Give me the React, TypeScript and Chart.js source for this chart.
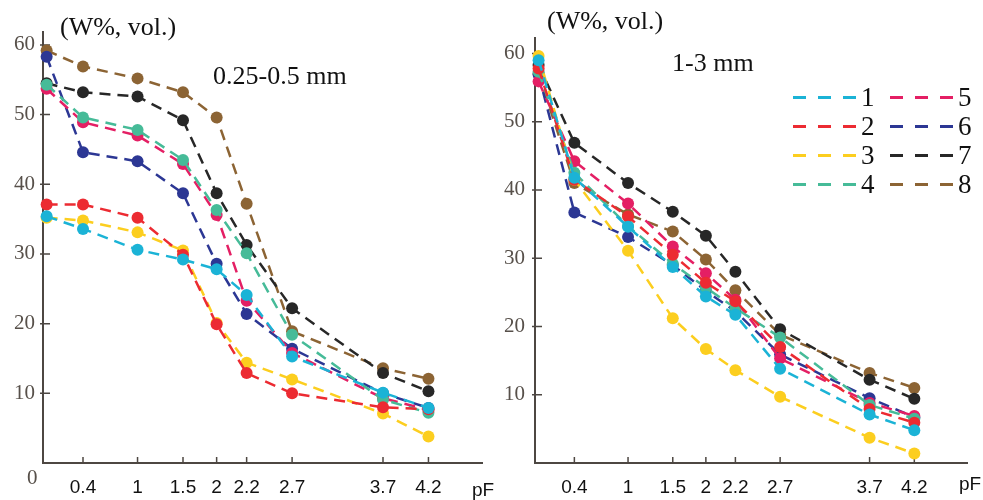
import React, { useEffect, useRef } from 'react';
import { Chart, registerables } from 'chart.js';
Chart.register(...registerables);

const pFPositions = [0, 0.4, 1, 1.5, 1.87, 2.2, 2.7, 3.7, 4.2];
const pFTickValues = [0.4, 1, 1.5, 1.87, 2.2, 2.7, 3.7, 4.2];
const pFTickLabels = ['0.4', '1', '1.5', '2', '2.2', '2.7', '3.7', '4.2'];
const yTickValues = [0, 10, 20, 30, 40, 50, 60];

const seriesNames = ['1', '2', '3', '4', '5', '6', '7', '8'];
const seriesColors = ['#1bb3d6', '#ec2b32', '#fcce1f', '#46bb98', '#e41f64', '#2c3794', '#272727', '#8c6434'];

// Left panel: 0.25-0.5 mm
const fine1 = [35.4, 33.6, 30.6, 29.2, 27.8, 24.1, 15.3, 10.1, 7.9];
const fine2 = [37.1, 37.1, 35.2, 29.9, 19.9, 12.9, 10.0, 8.0, 7.7];
const fine3 = [35.2, 34.8, 33.1, 30.5, 20.1, 14.4, 12.0, 7.1, 3.8];
const fine4 = [54.3, 49.6, 47.8, 43.5, 36.3, 30.1, 18.4, 9.1, 7.2];
const fine5 = [53.7, 48.9, 47.0, 42.9, 35.6, 23.3, 15.8, 9.3, 7.6];
const fine6 = [58.3, 44.6, 43.3, 38.7, 28.6, 21.4, 16.4, 10.0, 7.9];
const fine7 = [54.5, 53.2, 52.6, 49.2, 38.7, 31.3, 22.2, 12.9, 10.3];
const fine8 = [59.2, 56.9, 55.2, 53.2, 49.6, 37.2, 18.9, 13.6, 12.1];

// Right panel: 1-3 mm
const coarse1 = [59.0, 41.8, 34.6, 28.7, 24.4, 21.7, 13.8, 7.1, 4.8];
const coarse2 = [57.8, 41.5, 36.1, 30.5, 26.4, 23.7, 17.0, 7.9, 5.9];
const coarse3 = [59.6, 41.5, 31.1, 21.2, 16.7, 13.6, 9.7, 3.7, 1.4];
const coarse4 = [57.3, 42.5, 34.7, 29.2, 25.7, 22.7, 18.4, 8.5, 6.5];
const coarse5 = [55.9, 44.2, 38.0, 31.7, 27.8, 23.9, 15.3, 8.8, 6.9];
const coarse6 = [56.9, 36.7, 33.1, 29.0, 25.2, 22.2, 15.9, 9.5, 6.7];
const coarse7 = [58.3, 46.9, 41.0, 36.8, 33.3, 28.0, 19.6, 12.2, 9.4];
const coarse8 = [57.0, 41.0, 36.4, 33.9, 29.8, 25.3, 18.8, 13.2, 11.0];

const fineSeries = [fine1, fine2, fine3, fine4, fine5, fine6, fine7, fine8];
const coarseSeries = [coarse1, coarse2, coarse3, coarse4, coarse5, coarse6, coarse7, coarse8];

const AXIS_COLOR = '#4d4742';
const YLABEL_COLOR = '#57504a';
const SERIF = "'Liberation Serif', 'Times New Roman', serif";
const SANS = "'Liberation Sans', Arial, sans-serif";

const axisDecor = {
  id: 'axisDecor',
  beforeDatasetsDraw(chart: any) {
    const { ctx, chartArea: a, scales } = chart;
    const xs = scales.x;
    const ys = scales.y;
    ctx.save();
    ctx.strokeStyle = AXIS_COLOR;
    ctx.lineWidth = 2;
    ctx.beginPath();
    ctx.moveTo(a.left, a.top);
    ctx.lineTo(a.left, a.bottom);
    ctx.lineTo(a.right, a.bottom);
    ctx.stroke();
    ctx.lineWidth = 1.5;
    ctx.beginPath();
    for (const v of yTickValues) {
      if (v === 0) continue;
      const py = ys.getPixelForValue(v);
      ctx.moveTo(a.left - 3, py);
      ctx.lineTo(a.left + 7, py);
    }
    for (const v of pFTickValues) {
      const px = xs.getPixelForValue(v);
      ctx.moveTo(px, a.bottom);
      ctx.lineTo(px, a.bottom - 6);
    }
    ctx.stroke();
    ctx.restore();
  },
};

function buildConfig(series: number[][], yMax: number, yWidth: number, yPad: number, top: number, right: number): any {
  return {
    type: 'line',
    data: {
      datasets: series.map((vals, i) => ({
        label: seriesNames[i],
        data: pFPositions.map((p, j) => ({ x: p, y: vals[j] })),
        borderColor: seriesColors[i],
        backgroundColor: seriesColors[i],
        pointBackgroundColor: seriesColors[i],
        pointBorderWidth: 0,
        pointRadius: 6,
        borderWidth: 2.5,
        borderDash: [11, 7],
        tension: 0,
        clip: false,
      })),
    },
    options: {
      responsive: false,
      animation: false,
      layout: { padding: { top, right, left: 0, bottom: 0 } },
      plugins: { legend: { display: false }, tooltip: { enabled: false } },
      scales: {
        x: {
          type: 'linear',
          min: -0.04,
          max: 4.8,
          afterBuildTicks: (s: any) => {
            s.ticks = pFTickValues.map((v) => ({ value: v }));
          },
          afterFit: (s: any) => {
            s.height = 37;
          },
          grid: { display: false, drawTicks: false },
          border: { display: false },
          ticks: {
            autoSkip: false,
            maxRotation: 0,
            padding: 13,
            color: '#111',
            font: { family: SANS, size: 19 },
            callback: (v: any, idx: number) => pFTickLabels[idx],
          },
        },
        y: {
          type: 'linear',
          min: 0,
          max: yMax,
          afterBuildTicks: (s: any) => {
            s.ticks = yTickValues.map((v) => ({ value: v }));
          },
          afterFit: (s: any) => {
            s.width = yWidth;
          },
          grid: { display: false, drawTicks: false },
          border: { display: false },
          ticks: {
            padding: yPad,
            color: YLABEL_COLOR,
            font: { family: SERIF, size: 21 },
            callback: (v: any) => (v === 0 ? '' : String(v)),
          },
        },
      },
    },
    plugins: [axisDecor],
  };
}

function Panel({ series, yMax, yWidth, yPad, top, right, left, width }: any) {
  const ref = useRef<HTMLCanvasElement>(null);
  useEffect(() => {
    if (!ref.current) return;
    const chart = new Chart(ref.current, buildConfig(series, yMax, yWidth, yPad, top, right));
    return () => chart.destroy();
  }, []);
  return (
    <canvas
      ref={ref}
      width={width}
      height={500}
      style={{ position: 'absolute', left, top: 0, width, height: 500 }}
    />
  );
}

const textStyle = (left: number, top: number, size: number, family: string, color = '#111'): React.CSSProperties => ({
  position: 'absolute',
  left,
  top,
  fontSize: size,
  lineHeight: 1,
  fontFamily: family,
  color,
  whiteSpace: 'nowrap',
});

function Legend() {
  const rows = [0, 1, 2, 3];
  return (
    <div style={{ position: 'absolute', left: 793, top: 83 }}>
      {rows.map((r) => (
        <div key={r} style={{ display: 'flex', alignItems: 'center', height: 29 }}>
          {[r, r + 4].map((i, k) => (
            <div key={i} style={{ display: 'flex', alignItems: 'center', marginLeft: k === 1 ? 15 : 0 }}>
              <div
                style={{
                  width: 63,
                  height: 3,
                  background: `repeating-linear-gradient(to right, ${seriesColors[i]} 0px, ${seriesColors[i]} 13px, transparent 13px, transparent 25px)`,
                }}
              />
              <span style={{ fontFamily: SERIF, fontSize: 27, lineHeight: 1, marginLeft: 5, color: '#111', width: 14 }}>
                {seriesNames[i]}
              </span>
            </div>
          ))}
        </div>
      ))}
    </div>
  );
}

export default function App() {
  return (
    <div style={{ position: 'absolute', left: 0, top: 0, width: 983, height: 500, background: '#fff', overflow: 'hidden' }}>
      <Panel series={fineSeries} yMax={62} yWidth={43} yPad={8} top={31} right={7} left={0} width={490} />
      <Panel series={coarseSeries} yMax={62.4} yWidth={45} yPad={10} top={37} right={15} left={490} width={493} />
      <div style={textStyle(60, 14, 26, SERIF)}>(W%, vol.)</div>
      <div style={textStyle(547, 8, 26, SERIF)}>(W%, vol.)</div>
      <div style={textStyle(213, 63, 26, SERIF)}>0.25-0.5 mm</div>
      <div style={textStyle(672, 50, 26, SERIF)}>1-3 mm</div>
      <div style={textStyle(27, 467, 21, SERIF, YLABEL_COLOR)}>0</div>
      <div style={textStyle(472, 480, 19, SANS)}>pF</div>
      <div style={textStyle(959, 474, 19, SANS)}>pF</div>
      <Legend />
    </div>
  );
}
